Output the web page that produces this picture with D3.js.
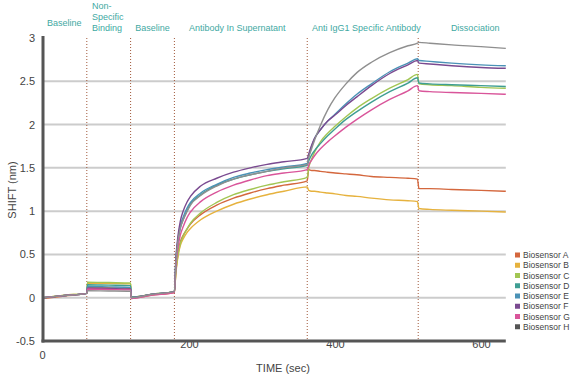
<!DOCTYPE html>
<html><head><meta charset="utf-8">
<script src="https://cdn.jsdelivr.net/npm/d3@7"></script>
<style>
body{margin:0;background:#fff;}
text{font-family:"Liberation Sans",Arial,sans-serif;}
</style></head>
<body><svg id="c" width="574" height="380"></svg>
<script>
const time = [0,30,60,61,90,120,121,150,180,182,185,188,192,197,202,216,238,261,284,307,330,362,364,368,372,380,390,400,415,430,450,475,500,513,515,530,560,600,634];
const biosensorA = [-0.01,0.02,0.05,0.12,0.115,0.11,0.0,0.03,0.06,0.3,0.52,0.64,0.72,0.79,0.85,0.96,1.07,1.15,1.21,1.26,1.3,1.35,1.48,1.47,1.47,1.46,1.45,1.44,1.43,1.42,1.4,1.39,1.38,1.37,1.26,1.26,1.25,1.24,1.23];
const biosensorB = [0.0,0.03,0.05,0.17,0.165,0.16,0.01,0.04,0.07,0.28,0.48,0.6,0.68,0.75,0.8,0.9,1.0,1.08,1.14,1.19,1.23,1.28,1.24,1.23,1.23,1.22,1.21,1.2,1.18,1.17,1.15,1.13,1.12,1.11,1.03,1.02,1.01,1.0,0.99];
const biosensorC = [0.0,0.03,0.05,0.18,0.175,0.17,0.01,0.04,0.07,0.3,0.5,0.62,0.71,0.79,0.86,0.98,1.1,1.19,1.25,1.3,1.34,1.39,1.5,1.6,1.68,1.8,1.9,1.98,2.09,2.19,2.3,2.42,2.52,2.58,2.47,2.46,2.45,2.43,2.42];
const biosensorD = [0.0,0.025,0.05,0.15,0.145,0.14,0.01,0.04,0.07,0.4,0.65,0.8,0.9,1.0,1.08,1.19,1.3,1.37,1.42,1.46,1.49,1.53,1.58,1.65,1.7,1.78,1.87,1.95,2.06,2.15,2.26,2.38,2.48,2.54,2.48,2.47,2.46,2.45,2.44];
const biosensorE = [0.0,0.025,0.05,0.13,0.125,0.12,0.0,0.04,0.07,0.42,0.68,0.83,0.93,1.03,1.1,1.21,1.31,1.39,1.44,1.48,1.51,1.55,1.63,1.75,1.84,1.94,2.04,2.12,2.24,2.35,2.47,2.61,2.71,2.76,2.74,2.73,2.71,2.69,2.68];
const biosensorF = [0.0,0.025,0.05,0.11,0.105,0.1,0.0,0.04,0.07,0.45,0.72,0.88,1.0,1.1,1.17,1.29,1.38,1.45,1.5,1.54,1.57,1.61,1.66,1.76,1.84,1.94,2.04,2.11,2.22,2.32,2.45,2.59,2.69,2.74,2.71,2.7,2.68,2.66,2.65];
const biosensorG = [0.0,0.025,0.05,0.1,0.095,0.09,-0.01,0.03,0.06,0.35,0.58,0.72,0.82,0.92,0.99,1.11,1.22,1.3,1.36,1.41,1.44,1.48,1.53,1.59,1.64,1.72,1.8,1.87,1.97,2.06,2.17,2.29,2.39,2.45,2.39,2.38,2.37,2.36,2.35];
const biosensorH = [0.0,0.025,0.05,0.08,0.078,0.075,0.0,0.04,0.07,0.4,0.66,0.8,0.9,0.99,1.07,1.18,1.29,1.37,1.42,1.46,1.5,1.54,1.62,1.72,1.82,1.99,2.17,2.31,2.47,2.6,2.72,2.83,2.91,2.94,2.95,2.94,2.92,2.9,2.88];
const seriesNames = ["Biosensor A","Biosensor B","Biosensor C","Biosensor D","Biosensor E","Biosensor F","Biosensor G","Biosensor H"];
const seriesValues = [biosensorA,biosensorB,biosensorC,biosensorD,biosensorE,biosensorF,biosensorG,biosensorH];
const seriesColors = ["#d4673d","#e6b23e","#a2c653","#3f9e93","#4b92b6","#7a4a90","#d9559a","#8f8f8f"];
const legendColors = ["#d4673d","#e6b23e","#a2c653","#3f9e93","#4b92b6","#7a4a90","#d9559a","#555555"];
const phaseTimes = [60,120,180,362,514];
const phaseLabels = [
  {t:29, lines:["Baseline"], base:26},
  {t:67, lines:["Non-","Specific","Binding"], anchor:"start", base:31},
  {t:150, lines:["Baseline"], base:31},
  {t:266, lines:["Antibody In Supernatant"], base:31},
  {t:443, lines:["Anti IgG1 Specific Antibody"], base:31},
  {t:592, lines:["Dissociation"], base:31}
];
const yTicks = [-0.5,0,0.5,1,1.5,2,2.5,3];
const xTicks = [0,200,400,600];

const svg = d3.select("#c");
const x = d3.scaleLinear().domain([0,634]).range([43,505.8]);
const y = d3.scaleLinear().domain([-0.5,3]).range([341,38]);

// gridlines
svg.append("g").selectAll("line").data(yTicks.filter(v=>v>-0.5 && v<3)).join("line")
  .attr("x1",x(0)).attr("x2",x(634)).attr("y1",d=>y(d)).attr("y2",d=>y(d))
  .attr("stroke","#cccccc").attr("stroke-width",2);

// dotted phase lines
svg.append("g").selectAll("line").data(phaseTimes).join("line")
  .attr("x1",d=>x(d)).attr("x2",d=>x(d)).attr("y1",y(3)).attr("y2",y(-0.5))
  .attr("stroke","#a0583a").attr("stroke-width",1).attr("stroke-dasharray","1,2");

// y axis labels
const yAxis = d3.axisLeft(y).tickValues(yTicks).tickSize(0).tickPadding(0).tickFormat(d=>String(d));
const gy = svg.append("g").attr("transform","translate(35,0)").call(yAxis);
gy.select(".domain").remove();
gy.selectAll("text").attr("font-size",11).attr("fill","#444").attr("font-family","Liberation Sans, Arial, sans-serif");

// x axis labels
const xAxis = d3.axisBottom(x).tickValues(xTicks).tickSize(0).tickPadding(0).tickFormat(d=>String(d));
const gx = svg.append("g").attr("transform","translate(0,339)").call(xAxis);
gx.select(".domain").remove();
gx.selectAll("text").attr("font-size",11).attr("fill","#444").attr("dy","0").attr("font-family","Liberation Sans, Arial, sans-serif")
  .attr("y",d=>d===0?20:9).attr("x",d=>d===0?-1:0);

// lines
const line = d3.line().x((d,i)=>x(time[i])).y(d=>y(d)).curve(d3.curveMonotoneX);
svg.append("g").selectAll("path").data(seriesValues).join("path")
  .attr("d",d=>line(d)).attr("fill","none")
  .attr("stroke",(d,i)=>seriesColors[i]).attr("stroke-width",1.4);

// axis lines
svg.append("line").attr("x1",x(0)).attr("x2",x(0)).attr("y1",36).attr("y2",y(-0.5)+1.5)
  .attr("stroke","#555").attr("stroke-width",3);
svg.append("line").attr("x1",x(0)-1.5).attr("x2",x(634)).attr("y1",y(-0.5)).attr("y2",y(-0.5))
  .attr("stroke","#555").attr("stroke-width",3);

// axis titles
svg.append("text").attr("x",283).attr("y",372).attr("text-anchor","middle")
  .attr("font-size",11).attr("fill","#444").text("TIME (sec)");
svg.append("text").attr("transform","translate(16,190) rotate(-90)").attr("text-anchor","middle")
  .attr("font-size",11).attr("fill","#444").text("SHIFT (nm)");

// phase labels
phaseLabels.forEach(p=>{
  const n = p.lines.length;
  const t = svg.append("text").attr("font-size",9).attr("fill","#3fa9a3")
    .attr("text-anchor",p.anchor||"middle");
  p.lines.forEach((l,i)=>{
    t.append("tspan").attr("x",x(p.t)).attr("y",p.base-(n-1-i)*11).text(l);
  });
});

// legend
const lg = svg.append("g").selectAll("g").data(seriesNames).join("g")
  .attr("transform",(d,i)=>`translate(515,${255+i*10.25})`);
lg.append("rect").attr("x",0).attr("y",-2.5).attr("width",5).attr("height",5).attr("fill",(d,i)=>legendColors[i]);
lg.append("text").attr("x",8).attr("y",3).attr("font-size",8.5).attr("fill","#444").text(d=>d);
</script></body></html>
